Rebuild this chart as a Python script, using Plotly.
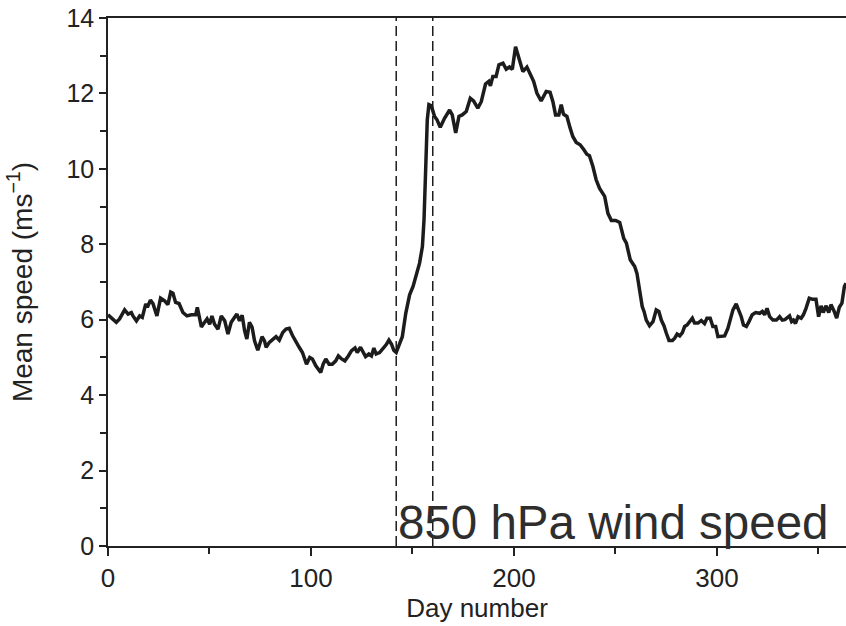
import plotly.graph_objects as go

# Day number of each read-off point
days = [0, 4.1, 5.7, 8.2, 9.9, 11.5, 12.3, 14, 15.6, 16.9, 18.6, 19.4, 20.9, 22.2, 24.1, 25.9,
        27.9, 29.5, 30.9, 32, 33.3, 35, 36.9, 38.9, 41, 43.2, 44, 44.8, 46, 47.6, 48.8, 50.1,
        51.2, 52.5, 54.2, 55.8, 57.5, 59.1, 60.7, 62.3, 63.5, 64.8, 66.1, 67.3, 68.4, 69.7,
        71, 72.2, 73.8, 75.9, 77.1, 77.9, 79.5, 81.5, 82.8, 84.4, 86.1, 87.7, 89.3, 90.9,
        92.6, 94.2, 95.8, 97.8, 99.4, 100.7, 102.4, 103.7, 104.8, 106, 107.3, 108.9, 110.5,
        112.2, 113.5, 115.1, 116.7, 118.4, 120, 121.7, 122.8, 124.4, 125.6, 126.9, 128.5,
        129.8, 131, 132.1, 133.8, 135.4, 137.1, 138.4, 139.7, 140.8, 142,
        143.3, 145, 146.7, 148.6, 150.3, 151.9, 153.5, 154.9, 155.7, 156.5, 157.3, 158.1,
        159.3, 160.9, 162.1, 163.7, 165.8, 168.3, 169.6, 171.3, 172.9, 174.5, 176.5, 178.5,
        180.1, 182.2, 183.9, 186, 187.6, 188.4, 189.6, 191.2, 192.6, 194.6, 196.2, 197.8,
        199.2, 200.8, 202.5, 204.4, 206.4, 208, 209.7, 211.3, 213.4, 215.9, 217.8, 219.2,
        220.5, 222.1, 223.3, 224.4, 226.1, 227.7, 229, 230.7, 232.6, 234.3, 235.9, 237.2,
        238.9, 240.5, 242.2, 244.7, 246.3, 248, 250.1, 252.1, 254.1, 255.4, 257.3, 259.5,
        260.6, 261.9, 263.2, 264.1, 265.2, 266.8, 268.5, 270.1, 271.4, 272.6, 273.9, 275.1,
        276.4, 278.1, 279.2, 280.4, 281.7, 283, 284.1, 285.3, 286.6, 287.9, 289, 290.7,
        292.3, 293.9, 295.1, 296.7, 298, 299.4, 300.5, 302.1, 303.8, 305.4, 306.6, 307.9,
        309.5, 310.8, 312, 313.1, 314.5, 315.8, 317.4, 319.1, 321.1, 322.4, 323.5, 324.7,
        326, 327.6, 329.3, 330.9, 332.2, 333.5, 334.5, 335.8, 336.8, 337.7, 338.7, 340,
        341.5, 342.6, 343.9, 345.5, 347.2, 348.8, 350.1, 351.3, 352.4, 353.7, 355.1, 356.2,
        357.8, 359, 360.3, 361.6, 362.8, 363.6]

# Mean 850 hPa wind speed (m/s)
speed = [6.13, 5.93, 6.02, 6.26, 6.15, 6.19, 6.1, 5.97, 6.1, 6.06, 6.42, 6.33, 6.52, 6.42, 6.1, 6.57,
         6.5, 6.4, 6.73, 6.7, 6.46, 6.43, 6.19, 6.1, 6.13, 6.13, 6.33, 6.1, 5.81, 5.93, 6.02, 5.88,
         6.1, 5.88, 5.75, 6.1, 5.97, 5.62, 5.93, 6.06, 6.15, 5.97, 6.12, 5.71, 5.49, 5.93,
         5.8, 5.44, 5.19, 5.55, 5.44, 5.27, 5.4, 5.49, 5.55, 5.46, 5.66, 5.75, 5.77, 5.58,
         5.44, 5.27, 5.13, 4.82, 5.0, 4.96, 4.78, 4.69, 4.6, 4.82, 4.96, 4.82, 4.82,
         4.91, 5.04, 4.96, 4.91, 5.04, 5.18, 5.25, 5.13, 5.27, 5.13, 5.02, 5.09,
         5.04, 5.25, 5.09, 5.13, 5.22, 5.34, 5.46, 5.35, 5.19, 5.13,
         5.31, 5.55, 6.17, 6.66, 6.88, 7.19, 7.5, 7.94, 8.65, 9.97, 11.3, 11.7,
         11.67, 11.39, 11.3, 11.1, 11.34, 11.56, 11.43, 10.95, 11.39, 11.43, 11.52, 11.87,
         11.8, 11.61, 11.78, 12.25, 12.32, 12.2, 12.45, 12.45, 12.76, 12.8, 12.64, 12.7,
         12.64, 13.24, 12.89, 12.58, 12.7, 12.49, 12.32, 12.01, 11.8, 12.05, 12.03, 11.78,
         11.43, 11.43, 11.7, 11.45, 11.39, 11.08, 10.86, 10.7, 10.64, 10.52, 10.39, 10.35,
         10.06, 9.71, 9.48, 9.27, 8.82, 8.63, 8.63, 8.58, 8.16, 8.03, 7.59, 7.41,
         7.23, 6.79, 6.35, 6.22, 5.99, 5.84, 5.95, 6.26, 6.22, 5.99, 5.84, 5.64,
         5.45, 5.45, 5.51, 5.62, 5.57, 5.66, 5.82, 5.86, 5.95, 6.04, 5.91, 5.91,
         5.98, 5.9, 6.04, 6.04, 5.82, 5.82, 5.55, 5.57, 5.57, 5.77, 5.99, 6.26,
         6.42, 6.26, 6.08, 5.86, 5.82, 5.95, 6.13, 6.19, 6.17, 6.22, 6.13, 6.3,
         6.08, 5.99, 5.99, 6.08, 5.99, 6.0, 6.04, 6.1, 5.95, 5.99, 5.9, 6.08,
         6.04, 6.13, 6.3, 6.57, 6.54, 6.54, 6.08, 6.37, 6.19, 6.37, 6.19, 6.4,
         6.22, 6.04, 6.33, 6.44, 6.88, 6.97]

event_days = [142, 160]
x_ticks = [0, 100, 200, 300]
y_ticks = [0, 2, 4, 6, 8, 10, 12, 14]
label_text = "850 hPa wind speed"

FONT = "Liberation Sans, Arial, Helvetica, sans-serif"
INK = "#222222"

fig = go.Figure()
fig.add_trace(go.Scatter(x=days, y=speed, mode="lines",
                         line=dict(color="#1c1c1c", width=3.5), showlegend=False))

for d in event_days:
    fig.add_shape(type="line", x0=d, x1=d, y0=0, y1=14, xref="x", yref="y",
                  line=dict(color="#1c1c1c", width=1.5, dash="10px,5px"))

fig.add_annotation(text=label_text, xref="paper", yref="paper", x=0.39, y=0.0,
                   xanchor="left", yanchor="bottom", yshift=-5, showarrow=False,
                   font=dict(family=FONT, size=47.5, color="#2e2e2e"))

fig.update_layout(
    width=846, height=626,
    margin=dict(l=108, r=0, t=18, b=80),
    paper_bgcolor="white", plot_bgcolor="white",
    font=dict(family=FONT, size=26, color=INK),
    xaxis=dict(range=[0, 363.6], tickvals=x_ticks, ticks="outside", ticklen=8, tickwidth=1.5,
               tickcolor=INK, showline=True, linecolor=INK, linewidth=1.5, mirror=True,
               showgrid=False, zeroline=False, automargin=False,
               tickfont=dict(size=26),
               minor=dict(tickvals=[50, 150, 250, 350], ticks="outside", ticklen=6,
                          tickwidth=1.5, tickcolor=INK),
               title=dict(text="Day number", font=dict(size=26), standoff=2)),
    yaxis=dict(range=[0, 14], tickvals=y_ticks, ticks="outside", ticklen=7, tickwidth=1.5,
               tickcolor=INK, showline=True, linecolor=INK, linewidth=1.5,
               showgrid=False, zeroline=False, automargin=False,
               tickfont=dict(size=25),
               minor=dict(tickvals=[1, 3, 5, 7, 9, 11, 13], ticks="outside", ticklen=6,
                          tickwidth=1.5, tickcolor=INK),
               title=dict(text="Mean speed (ms<sup>−1</sup>)", font=dict(size=28), standoff=26)),
)

fig.write_html("out.html")
